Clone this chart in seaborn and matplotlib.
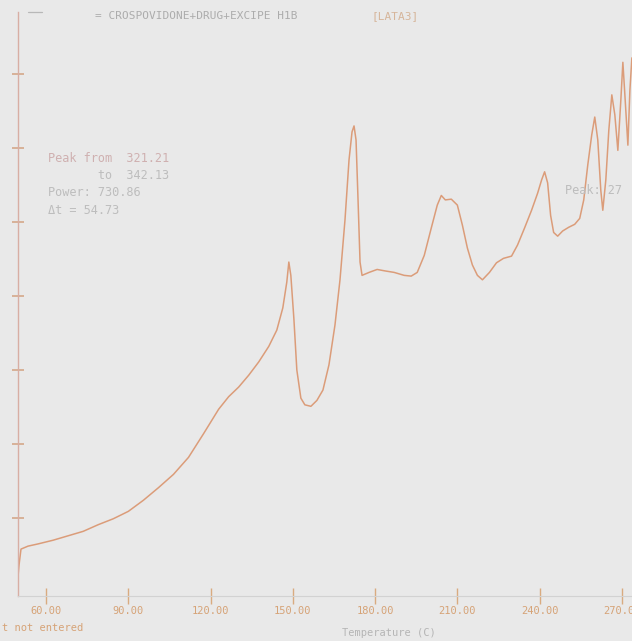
import matplotlib
matplotlib.use("Agg")
import matplotlib.pyplot as plt
import seaborn as sns
import pandas as pd

# DSC trace: temperature (C) and heat flow (arbitrary units)
temperature = [49.39, 50.12, 50.85, 53.41, 57.07, 62.56, 68.05, 73.54, 79.02, 84.51,
               90.00, 95.49, 100.98, 106.46, 111.95, 117.44, 122.93, 126.59, 130.24, 133.90,
               137.56, 141.22, 144.15, 146.34, 147.80, 148.54, 149.27, 150.37, 151.46, 152.93,
               154.39, 156.59, 158.78, 160.98, 163.17, 165.37, 167.20, 169.02, 170.49, 171.59,
               172.32, 173.05, 173.78, 174.51, 175.24, 177.80, 180.73, 183.66, 186.96, 190.61,
               193.17, 195.37, 197.93, 200.49, 202.68, 204.15, 205.61, 207.80, 210.00, 211.83,
               213.66, 215.49, 217.32, 219.15, 221.71, 224.27, 226.83, 229.76, 231.95, 234.51,
               237.07, 239.27, 240.73, 241.83, 242.93, 244.02, 245.12, 246.59, 248.41, 250.61,
               252.80, 254.63, 256.10, 257.56, 259.02, 260.12, 261.22, 262.32, 263.05, 264.15,
               265.24, 266.34, 267.44, 268.54, 269.63, 270.37, 271.10, 272.20, 272.93, 273.66]
heat_flow = [0.05, 0.36, 0.58, 0.62, 0.65, 0.70, 0.76, 0.82, 0.91, 0.99,
             1.09, 1.24, 1.41, 1.59, 1.82, 2.14, 2.47, 2.64, 2.77, 2.93,
             3.11, 3.32, 3.54, 3.84, 4.19, 4.46, 4.28, 3.70, 3.00, 2.62,
             2.53, 2.51, 2.59, 2.73, 3.07, 3.61, 4.22, 5.03, 5.84, 6.22,
             6.30, 6.11, 5.30, 4.46, 4.28, 4.32, 4.36, 4.34, 4.32, 4.28,
             4.27, 4.32, 4.55, 4.92, 5.23, 5.36, 5.30, 5.31, 5.23, 4.96,
             4.65, 4.42, 4.28, 4.22, 4.32, 4.45, 4.51, 4.54, 4.69, 4.92,
             5.16, 5.39, 5.57, 5.68, 5.53, 5.09, 4.86, 4.81, 4.88, 4.93,
             4.97, 5.05, 5.30, 5.77, 6.18, 6.42, 6.11, 5.43, 5.16, 5.57,
             6.24, 6.72, 6.45, 5.97, 6.65, 7.16, 6.72, 6.04, 6.78, 7.22]

x_ticks = [60, 90, 120, 150, 180, 210, 240, 270]
x_tick_labels = ["60.00", "90.00", "120.00", "150.00", "180.00", "210.00", "240.00", "270.00"]
y_ticks = [1, 2, 3, 4, 5, 6, 7]

series_label = "= CROSPOVIDONE+DRUG+EXCIPE H1B"
method_label = "[LATA3]"
peak_lines = ["Peak from  321.21", "       to  342.13", "Power: 730.86", "\u0394t = 54.73"]

df = pd.DataFrame({"Temperature": temperature, "HeatFlow": heat_flow})

sns.set_style("white")
plt.rcParams["font.family"] = ["DejaVu Sans Mono", "DejaVu Sans"]

bg = "#e9e9e9"
fig = plt.figure(figsize=(6.32, 6.41), dpi=100, facecolor=bg)
ax = fig.add_axes([18 / 632, (641 - 596) / 641, 1 - 18 / 632, (596 - 12) / 641])
ax.set_facecolor(bg)

sns.lineplot(data=df, x="Temperature", y="HeatFlow", ax=ax, sort=False,
             color="#d98f66", linewidth=1.1, alpha=0.85)

ax.set_xlim(49.76, 273.7)
ax.set_ylim(-0.054, 7.84)
ax.set_xticks(x_ticks)
ax.set_xticklabels(x_tick_labels)
ax.set_yticks(y_ticks)
ax.set_yticklabels([])
ax.set_xlabel("")
ax.set_ylabel("")

for side in ["top", "right"]:
    ax.spines[side].set_visible(False)
ax.spines["left"].set_color("#d8aea4")
ax.spines["left"].set_linewidth(1.0)
ax.spines["bottom"].set_color("#d2d2d2")
ax.spines["bottom"].set_linewidth(0.8)

ax.tick_params(axis="x", bottom=True, direction="inout", length=12, width=1.0,
               color="#d9ab80", labelsize=7.5, labelcolor="#d6a377", pad=1)
ax.tick_params(axis="y", left=True, direction="inout", length=9, width=1.2, color="#d4a88a")

# header: series sample line and names
fig.add_artist(plt.Line2D([28 / 632, 42 / 632], [1 - 12 / 641, 1 - 12 / 641],
                          color="#b8b8b8", linewidth=0.9))
fig.text(95 / 632, 1 - 16 / 641, series_label, fontsize=8, color="#acacac", va="center")
fig.text(372 / 632, 1 - 16 / 641, method_label, fontsize=8, color="#d6b59a", va="center")

# peak integration box
y0 = 158
for i, line in enumerate(peak_lines):
    fig.text(48 / 632, 1 - (y0 + i * 17.5) / 641, line, fontsize=8.6,
             color="#cfb0b0" if i == 0 else "#bdbdbd", va="center")

fig.text(565 / 632, 1 - 190 / 641, "Peak: 27", fontsize=8.6, color="#bdbdbd", va="center")

# footer
fig.text(2 / 632, 1 - 628 / 641, "t not entered", fontsize=7.5, color="#d6a377", va="center")
fig.text(342 / 632, 1 - 633 / 641, "Temperature (C)", fontsize=7.5, color="#b5b5b5", va="center")

fig.savefig("out.png", dpi=100, facecolor=bg)
